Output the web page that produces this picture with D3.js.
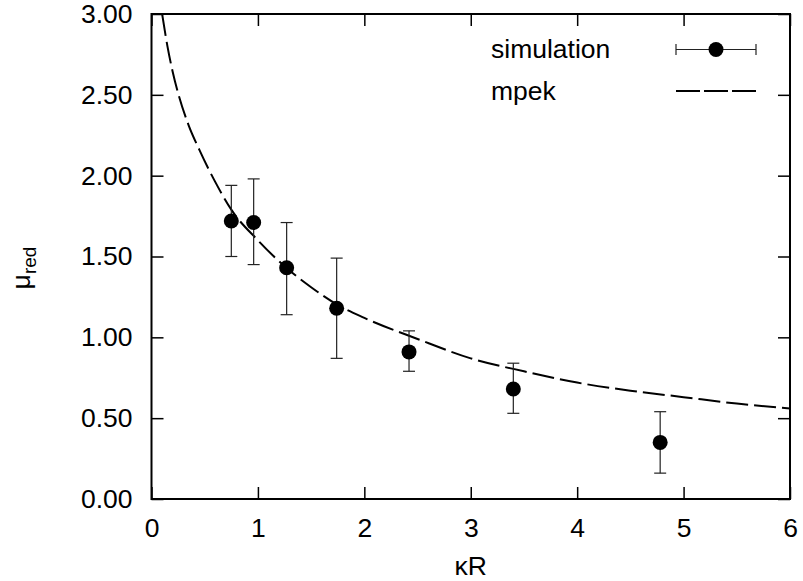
<!DOCTYPE html>
<html>
<head>
<meta charset="utf-8">
<script src="https://cdn.jsdelivr.net/npm/d3@7"></script>
<style>
  body { margin: 0; background: #fff; }
  text { font-family: "Liberation Sans", Arial, sans-serif; fill: #000; }
</style>
</head>
<body>
<svg width="803" height="581"></svg>
<script>
// simulation points (kappa R, mu_red, error bar low/high)
let simX    = [0.75, 0.96, 1.27, 1.74, 2.42, 3.40, 4.78];
let simY    = [1.72, 1.71, 1.43, 1.18, 0.91, 0.68, 0.35];
let simLow  = [1.50, 1.45, 1.14, 0.87, 0.79, 0.53, 0.16];
let simHigh = [1.94, 1.98, 1.71, 1.49, 1.04, 0.84, 0.54];

// mpek theory curve
let mpekX = [0.10, 0.15, 0.20, 0.25, 0.35, 0.45, 0.60, 0.75, 1.00, 1.25, 1.50, 1.75, 2.00, 2.50, 3.00, 3.50, 4.00, 4.50, 5.00, 5.50, 6.00];
let mpekY = [3.00, 2.80, 2.64, 2.51, 2.31, 2.16, 1.96, 1.79, 1.60, 1.44, 1.31, 1.20, 1.12, 0.99, 0.87, 0.79, 0.72, 0.67, 0.63, 0.59, 0.56];

let xTicks = [0, 1, 2, 3, 4, 5, 6];
let yTicks = [0, 0.5, 1, 1.5, 2, 2.5, 3];

let svg = d3.select("svg"),
    margin = {top: 14, right: 13, bottom: 82, left: 151.5},
    width = +svg.attr("width") - margin.left - margin.right,
    height = +svg.attr("height") - margin.top - margin.bottom;

let x = d3.scaleLinear().domain([0, 6]).range([0, width]),
    y = d3.scaleLinear().domain([0, 3]).range([height, 0]);

let g = svg.append("g")
    .attr("transform", "translate(" + margin.left + "," + margin.top + ")");

g.append("clipPath").attr("id", "clip")
    .append("rect").attr("width", width).attr("height", height);

let tickLen = 12;
let fs = "26.5px";

// axes with inward ticks, mirrored on the top and right
let axB = g.append("g").attr("transform", "translate(0," + height + ")")
    .call(d3.axisBottom(x).tickValues(xTicks).tickSizeInner(-tickLen).tickSizeOuter(0).tickPadding(19).tickFormat(d3.format("d")));
let axT = g.append("g")
    .call(d3.axisTop(x).tickValues(xTicks).tickSizeInner(-tickLen).tickSizeOuter(0).tickFormat(""));
let axL = g.append("g")
    .call(d3.axisLeft(y).tickValues(yTicks).tickSizeInner(-tickLen).tickSizeOuter(0).tickPadding(19).tickFormat(d3.format(".2f")));
let axR = g.append("g").attr("transform", "translate(" + width + ",0)")
    .call(d3.axisRight(y).tickValues(yTicks).tickSizeInner(-tickLen).tickSizeOuter(0).tickFormat(""));

[axB, axT, axL, axR].forEach(function (a) {
    a.select(".domain").remove();
    a.selectAll("line").attr("stroke", "#000").attr("stroke-width", 1.5);
    a.selectAll("text").style("font-size", fs).style("font-family", "'Liberation Sans', Arial, sans-serif").attr("fill", "#000");
});
axB.selectAll("text").attr("dy", "0.71em");

// frame
g.append("rect")
    .attr("width", width).attr("height", height)
    .attr("fill", "none").attr("stroke", "#000").attr("stroke-width", 2);

// mpek curve
let mpek = mpekX.map(function (d, i) { return [d, mpekY[i]]; });
g.append("path")
    .datum(mpek)
    .attr("clip-path", "url(#clip)")
    .attr("fill", "none")
    .attr("stroke", "#000")
    .attr("stroke-width", 2)
    .attr("stroke-dasharray", "22,6")
    .attr("d", d3.line().curve(d3.curveMonotoneX)
        .x(function (d) { return x(d[0]); })
        .y(function (d) { return y(d[1]); }));

// simulation with error bars
let sim = simX.map(function (d, i) {
    return {x: d, y: simY[i], lo: simLow[i], hi: simHigh[i]};
});
let cap = 6;
let pts = g.selectAll(".pt").data(sim).enter().append("g").attr("class", "pt");
pts.append("line")
    .attr("x1", function (d) { return x(d.x); }).attr("x2", function (d) { return x(d.x); })
    .attr("y1", function (d) { return y(d.lo); }).attr("y2", function (d) { return y(d.hi); })
    .attr("stroke", "#222").attr("stroke-width", 1.2);
pts.append("line")
    .attr("x1", function (d) { return x(d.x) - cap; }).attr("x2", function (d) { return x(d.x) + cap; })
    .attr("y1", function (d) { return y(d.lo); }).attr("y2", function (d) { return y(d.lo); })
    .attr("stroke", "#222").attr("stroke-width", 1.2);
pts.append("line")
    .attr("x1", function (d) { return x(d.x) - cap; }).attr("x2", function (d) { return x(d.x) + cap; })
    .attr("y1", function (d) { return y(d.hi); }).attr("y2", function (d) { return y(d.hi); })
    .attr("stroke", "#222").attr("stroke-width", 1.2);
pts.append("circle")
    .attr("cx", function (d) { return x(d.x); })
    .attr("cy", function (d) { return y(d.y); })
    .attr("r", 7.5)
    .attr("fill", "#000");

// legend
let leg = svg.append("g");
leg.append("text").attr("x", 491).attr("y", 49).attr("dy", "0.35em")
    .style("font-size", fs).text("simulation");
leg.append("text").attr("x", 491).attr("y", 91).attr("dy", "0.35em")
    .style("font-size", fs).text("mpek");
leg.append("line").attr("x1", 676).attr("x2", 756).attr("y1", 49.5).attr("y2", 49.5)
    .attr("stroke", "#222").attr("stroke-width", 1.2);
[676, 756].forEach(function (cx) {
    leg.append("line").attr("x1", cx).attr("x2", cx).attr("y1", 44).attr("y2", 55)
        .attr("stroke", "#222").attr("stroke-width", 1.2);
});
leg.append("circle").attr("cx", 716).attr("cy", 49.5).attr("r", 7.5).attr("fill", "#000");
leg.append("line").attr("x1", 676).attr("x2", 756).attr("y1", 91).attr("y2", 91)
    .attr("stroke", "#000").attr("stroke-width", 2).attr("stroke-dasharray", "24,4");

// axis labels
svg.append("text")
    .attr("x", margin.left + width / 2).attr("y", 575)
    .attr("text-anchor", "middle")
    .style("font-size", fs)
    .text("κR");

let yl = svg.append("text")
    .attr("transform", "translate(30,268) rotate(-90)")
    .attr("text-anchor", "middle")
    .style("font-size", fs);
yl.append("tspan").text("μ");
yl.append("tspan").attr("dy", "0.3em").style("font-size", "19px").text("red");
</script>
</body>
</html>
